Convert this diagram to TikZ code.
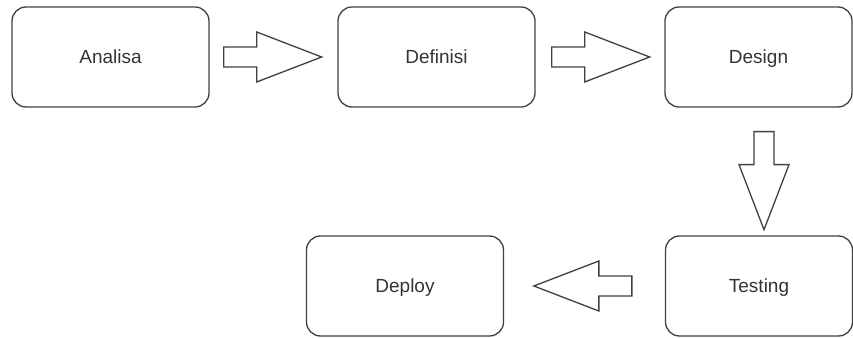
\documentclass[tikz,border=0pt]{standalone}
\usepackage{fontspec}
\setmainfont{Liberation Sans}
\usetikzlibrary{calc}
\tikzset{
  stage/.style={draw=black!75, line width=1.3pt, rounded corners=14pt, text=black!80,
    minimum width=197pt, minimum height=100pt, text height=14pt, text depth=0pt,
    font=\fontsize{19}{23}\selectfont},
  fatline/.style={draw=black!75, line width=1.3pt, line join=miter}
}
% block arrow: start point, direction angle
\newcommand{\fatarrow}[2]{%
  \draw[fatline, shift={(#1)}, rotate=#2] (0,-10) -- (33,-10) -- (33,-25) -- (98,0)
    -- (33,25) -- (33,10) -- (0,10) -- cycle;}
\begin{document}
\begin{tikzpicture}[x=1pt,y=1pt]
\useasboundingbox (0,0) rectangle (853,337);
\node[stage] (analisa) at (110.5,280) {Analisa};
\node[stage] (definisi) at (436.5,280) {Definisi};
\node[stage, minimum width=187pt] (design) at (758.5,280) {Design};
\node[stage, minimum width=187pt] (testing) at (759,51) {Testing};
\node[stage] (deploy) at (405,51) {Deploy};
\fatarrow{$(analisa.east)+(14,0)$}{0}
\fatarrow{$(definisi.east)+(16,0)$}{0}
\fatarrow{$(design.south)+(5.5,-24)$}{-90}
\fatarrow{$(testing.west)+(-33,0)$}{180}
\end{tikzpicture}
\end{document}
